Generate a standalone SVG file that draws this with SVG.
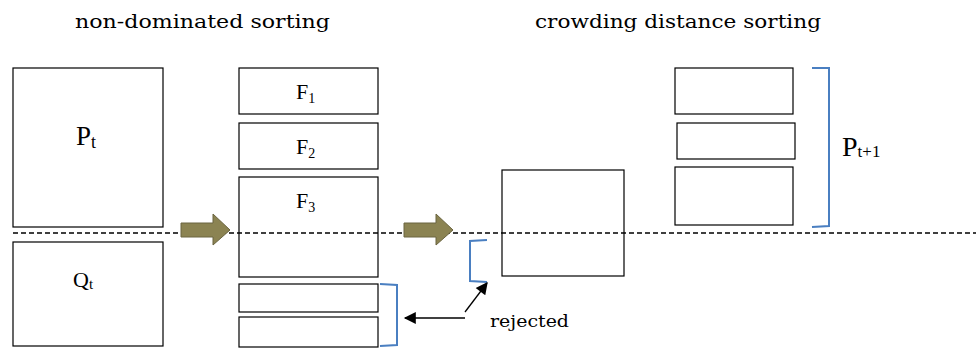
<svg xmlns="http://www.w3.org/2000/svg" width="976" height="349" viewBox="0 0 976 349">
<style>
.box{fill:#fff;stroke:#000;stroke-width:1.2}
.title{font-family:"DejaVu Serif","Liberation Serif",serif;fill:#000}
.lbl{font-family:"Liberation Serif","Times New Roman",serif;fill:#000}
.br{fill:none;stroke:#4a7fc1;stroke-width:2}
.fat{fill:#8b8352;stroke:#6b6540;stroke-width:1}
.ar{stroke:#000;stroke-width:1.3;fill:none}
</style>
<defs>
<marker id="ah2" viewBox="0 0 10 10" refX="9" refY="5" markerWidth="14" markerHeight="12" markerUnits="userSpaceOnUse" orient="auto"><path d="M0,0 L10,5 L0,10 z" fill="#000"/></marker>
</defs>
<text class="title" x="75" y="28" font-size="19" textLength="255" lengthAdjust="spacingAndGlyphs">non-dominated sorting</text>
<text class="title" x="535" y="28" font-size="19" textLength="286" lengthAdjust="spacingAndGlyphs">crowding distance sorting</text>

<g id="Pt"><rect class="box" x="13" y="68" width="150" height="159"/><text class="lbl" x="76" y="145" font-size="27">P<tspan font-size="18" dy="3">t</tspan></text></g>
<g id="Qt"><rect class="box" x="13" y="242" width="150" height="104"/><text class="lbl" x="73" y="287" font-size="22">Q<tspan font-size="15" dy="2">t</tspan></text></g>
<g id="F1"><rect class="box" x="239" y="68" width="139" height="46"/><text class="lbl" x="296" y="99" font-size="22">F<tspan font-size="14" dy="4">1</tspan></text></g>
<g id="F2"><rect class="box" x="239" y="123" width="139" height="46"/><text class="lbl" x="296" y="154" font-size="22">F<tspan font-size="14" dy="4">2</tspan></text></g>
<g id="F3"><rect class="box" x="239" y="177" width="139" height="100"/><text class="lbl" x="296" y="208" font-size="22">F<tspan font-size="14" dy="4">3</tspan></text></g>
<g id="F4"><rect class="box" x="239" y="284" width="139" height="28"/></g>
<g id="F5"><rect class="box" x="239" y="317" width="139" height="30"/></g>
<g id="mid"><rect class="box" x="502" y="170" width="122" height="106"/></g>
<g id="R1"><rect class="box" x="675" y="68" width="118" height="46"/></g>
<g id="R2"><rect class="box" x="677" y="123" width="118" height="36"/></g>
<g id="R3"><rect class="box" x="675" y="167" width="118" height="58"/></g>

<g id="connectors">
<line x1="13" y1="233" x2="976" y2="233" stroke="#000" stroke-width="1.6" stroke-dasharray="5,3"/>
<path class="fat" d="M181,223 L213,223 L213,214 L230,230 L213,245 L213,237 L181,237 z"/>
<path class="fat" d="M404,223 L436,223 L436,214 L453,230 L436,245 L436,237 L404,237 z"/>
<path class="br" d="M380,284 L397,285 L397,345 L380,346"/>
<path class="br" d="M487,240 L470,241 L470,281 L487,282"/>
<path class="br" d="M812,68 L829,68 L829,226 L812,227"/>
<line class="ar" x1="465" y1="318" x2="405" y2="318" marker-end="url(#ah2)"/>
<line class="ar" x1="465" y1="312" x2="487" y2="283" marker-end="url(#ah2)"/>
</g>
<text class="title" x="490" y="327" font-size="17" textLength="79" lengthAdjust="spacingAndGlyphs">rejected</text>
<g id="Pt1"><text class="lbl" x="842" y="156" font-size="28">P<tspan font-size="17" dy="1">t+1</tspan></text></g>
</svg>
